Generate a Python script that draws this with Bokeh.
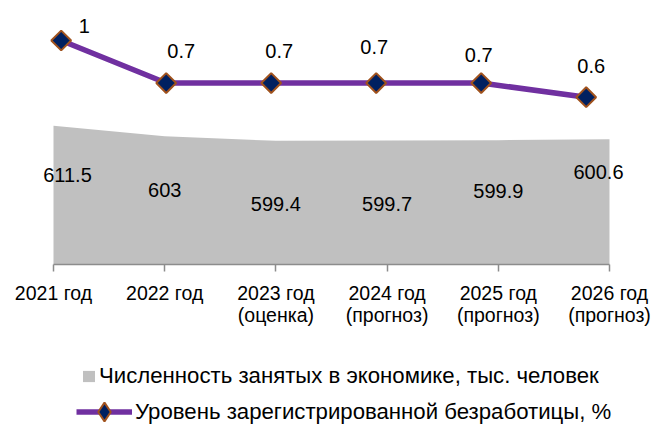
import math
from bokeh.plotting import figure
from bokeh.layouts import column
from bokeh.models import ColumnDataSource, Range1d, FixedTicker, Legend, LegendItem
from bokeh.core.properties import value
from bokeh.embed import file_html
from bokeh.resources import INLINE

# ---------------- data ----------------
categories = ["2021 год", "2022 год", "2023 год\n(оценка)", "2024 год\n(прогноз)",
              "2025 год\n(прогноз)", "2026 год\n(прогноз)"]
employed = [611.5, 603, 599.4, 599.7, 599.9, 600.6]          # тыс. человек
unemployment = [1, 0.7, 0.7, 0.7, 0.7, 0.6]                   # %
series_names = ["Численность занятых в экономике, тыс. человек",
                "Уровень зарегистрированной безработицы, %"]

# ---------------- style ----------------
FONT = "Liberation Sans"
AREA_COLOR = "#C0C0C0"
LINE_COLOR = "#7030A0"
MARKER_FILL = "#002060"
MARKER_LINE = "#A0521D"
AXIS_COLOR = "#8C8C8C"
EMP_AXIS = (500, 712.08)            # area axis (min is the area baseline)
UNEMP_AXIS = (-0.5802, 1.2822)      # secondary axis for the line
X_AXIS = (-0.4766, 5.3777)
LINE_X_AXIS = (-0.5781, 5.6219)
# label offsets in screen pixels (dx, dy; dy positive = down)
emp_lbl_dx = [14, 0, 0, 0, 0, -11]
emp_lbl_dy = [49, 54, 63, 63.5, 51, 33]
un_lbl_dx = [23, 15, 8, -2, -2.5, 5]
un_lbl_dy = [-15, -32, -32, -36, -28, -31.5]

W, H1, H2 = 651, 348, 76

xs = list(range(len(categories)))
src = ColumnDataSource(dict(
    x=xs, employed=employed, unemployment=unemployment,
    emp_text=[f"{v:g}" for v in employed],
    un_text=[f"{v:g}" for v in unemployment],
    emp_dx=emp_lbl_dx, emp_dy=emp_lbl_dy, un_dx=un_lbl_dx, un_dy=un_lbl_dy,
))

p = figure(width=W, height=H1, output_backend="svg", toolbar_location=None,
           x_range=Range1d(*X_AXIS), y_range=Range1d(*EMP_AXIS),
           y_axis_location=None,
           min_border_left=0, min_border_right=0, min_border_top=0,
           min_border_bottom=84)
p.extra_x_ranges = {"lx": Range1d(*LINE_X_AXIS)}
p.extra_y_ranges = {"ly": Range1d(*UNEMP_AXIS)}
p.outline_line_color = None
p.grid.visible = False
p.background_fill_color = "white"

ax = p.xaxis[0]
ax.ticker = FixedTicker(ticks=xs)
ax.bounds = (xs[0], xs[-1])
ax.major_label_overrides = {i: c for i, c in zip(xs, categories)}
ax.axis_line_color = AXIS_COLOR
ax.axis_line_width = 1.5
ax.major_tick_line_color = AXIS_COLOR
ax.major_tick_line_width = 1.5
ax.major_tick_in = 0
ax.major_tick_out = 7
ax.minor_tick_line_color = None
ax.major_label_text_font = FONT
ax.major_label_text_font_size = "19.5px"
ax.major_label_text_line_height = 1.03
ax.major_label_text_color = "black"
ax.major_label_standoff = 10

area_style = dict(fill_color=AREA_COLOR)
line_style = dict(line_color=LINE_COLOR, line_width=5.5)
mark_style = dict(marker="square", size=14, angle=math.pi / 4,
                  fill_color=MARKER_FILL, line_color=MARKER_LINE, line_width=2)

p.varea(x="x", y1=EMP_AXIS[0], y2="employed", source=src, **area_style)
p.text(x="x", y="employed", text="emp_text", x_offset="emp_dx", y_offset="emp_dy",
       source=src, text_align="center", text_baseline="middle",
       text_font=value(FONT), text_font_size="20px", text_color="black")

p.line(x="x", y="unemployment", source=src, x_range_name="lx", y_range_name="ly", **line_style)
p.scatter(x="x", y="unemployment", source=src, x_range_name="lx", y_range_name="ly", **mark_style)
p.text(x="x", y="unemployment", text="un_text", x_offset="un_dx", y_offset="un_dy",
       source=src, x_range_name="lx", y_range_name="ly",
       text_align="center", text_baseline="middle",
       text_font=value(FONT), text_font_size="20px", text_color="black")

# ---------------- legend (separate strip below the chart) ----------------
q = figure(width=W, height=H2, output_backend="svg", toolbar_location=None,
           x_range=Range1d(0, W), y_range=Range1d(0, H2),
           x_axis_location=None, y_axis_location=None,
           min_border_left=0, min_border_right=0, min_border_top=0, min_border_bottom=0)
q.outline_line_color = None
q.grid.visible = False
nan = float("nan")
proxy = ColumnDataSource(dict(x=[nan], y=[nan], y0=[nan]))
la = q.varea(x="x", y1="y0", y2="y", source=proxy, **area_style)
ll = q.line(x="x", y="y", source=proxy, **line_style)
lm = q.scatter(x="x", y="y", source=proxy, marker="diamond",
               fill_color=MARKER_FILL, line_color=MARKER_LINE, line_width=2)

common = dict(padding=0, margin=0, spacing=0, border_line_color=None,
              background_fill_alpha=0, label_text_font=FONT,
              label_text_font_size="22.2px", label_text_color="black")
leg1 = Legend(items=[LegendItem(label=series_names[0], renderers=[la])],
              location=(81, 35), glyph_width=15, glyph_height=14, label_standoff=3, **common)
leg2 = Legend(items=[LegendItem(label=series_names[1], renderers=[ll, lm])],
              location=(76, -11), glyph_width=56, glyph_height=47, label_standoff=3, **common)
q.add_layout(leg1)
q.add_layout(leg2)

open("out.html", "w").write(file_html(column(p, q, spacing=0), INLINE))
